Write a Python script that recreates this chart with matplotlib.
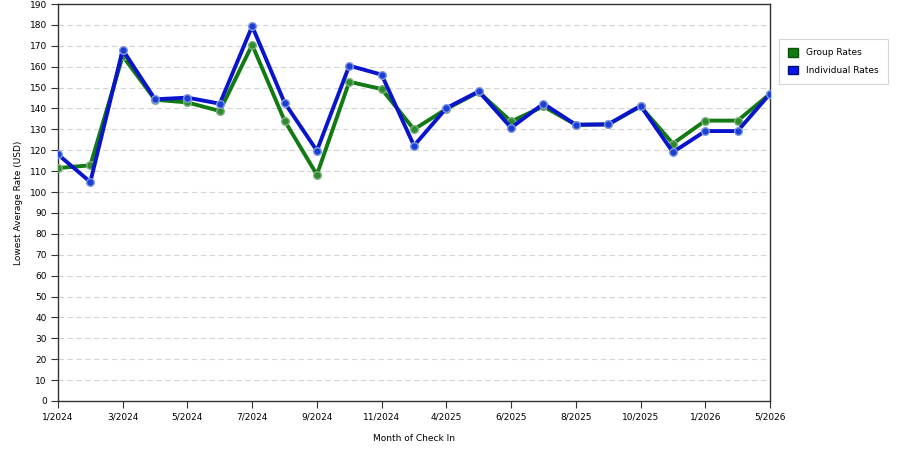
import matplotlib.pyplot as plt
from matplotlib.patches import Patch

# Data
months = ['1/2024', '2/2024', '3/2024', '4/2024', '5/2024', '6/2024', '7/2024',
          '8/2024', '9/2024', '10/2024', '11/2024', '12/2024', '4/2025', '5/2025',
          '6/2025', '7/2025', '8/2025', '9/2025', '10/2025', '12/2025', '1/2026',
          '3/2026', '5/2026']
group_rates = [111.5, 112.8, 165.1, 144.2, 142.9, 138.8, 170.5, 134.2, 108.3,
               152.8, 149.3, 130.0, 139.8, 147.9, 133.8, 141.0, 132.2, 132.4,
               141.0, 123.2, 134.2, 134.2, 147.0]
individual_rates = [118.0, 104.8, 168.1, 144.4, 145.2, 142.3, 179.4, 142.8, 119.8,
                    160.5, 156.2, 122.2, 140.2, 148.2, 130.8, 142.3, 132.2, 132.4,
                    141.3, 119.1, 129.2, 129.2, 147.1]
y_ticks = list(range(0, 191, 10))

green = '#127a12'
blue = '#0a14cc'

plt.rcParams['font.family'] = 'DejaVu Sans'

fig = plt.figure(figsize=(9, 4.5), dpi=100)
ax = fig.add_axes([0.0644, 0.109, 0.7912, 0.882])

x = list(range(len(months)))

ax.plot(x, group_rates, color=green, linewidth=2.8, marker='o', markersize=5.5,
        markerfacecolor='#2d8a2d', markeredgecolor='#7fb07f', markeredgewidth=1,
        zorder=3, label='Group Rates')
ax.plot(x, individual_rates, color=blue, linewidth=2.8, marker='o', markersize=5.5,
        markerfacecolor='#1a3ed6', markeredgecolor='#7f9ae0', markeredgewidth=1,
        zorder=4, label='Individual Rates')

# ---------- AXIS OPTIONS ----------
ax.set_xlim(0, len(months) - 1)
ax.set_ylim(0, 190)
ax.set_yticks(y_ticks)
ax.set_yticklabels([str(v) for v in y_ticks], fontsize=6.5)
ax.set_xticks(x[::2])
ax.set_xticklabels(months[::2], fontsize=6.5)
ax.tick_params(which='major', direction='out', length=5, width=0.8,
               color='#333333', pad=3)

ax.yaxis.grid(True, linestyle=(0, (5, 3)), color='#d4d4d4', linewidth=0.8)
ax.set_axisbelow(True)
for sp in ax.spines.values():
    sp.set_color('#333333')
    sp.set_linewidth(1)

ax.set_ylabel('Lowest Average Rate (USD)', fontsize=6.5, labelpad=5)
ax.set_xlabel('Month of Check In', fontsize=6.5, labelpad=9)

# Legend box to the right of the plot
handles = [Patch(facecolor=green, edgecolor='#0b4d0b', label='Group Rates'),
           Patch(facecolor='#0a14f0', edgecolor='#05106e', label='Individual Rates')]
leg = fig.legend(handles=handles, loc='upper left',
                 bbox_to_anchor=(779 / 900, 1 - 39 / 450), fontsize=6.5,
                 frameon=True, fancybox=False, edgecolor='#cccccc',
                 handlelength=1.1, handleheight=1.1, borderpad=1.0,
                 labelspacing=0.9, handletextpad=0.9, borderaxespad=0)
leg.get_frame().set_linewidth(0.8)

fig.savefig('out.png', dpi=100)
